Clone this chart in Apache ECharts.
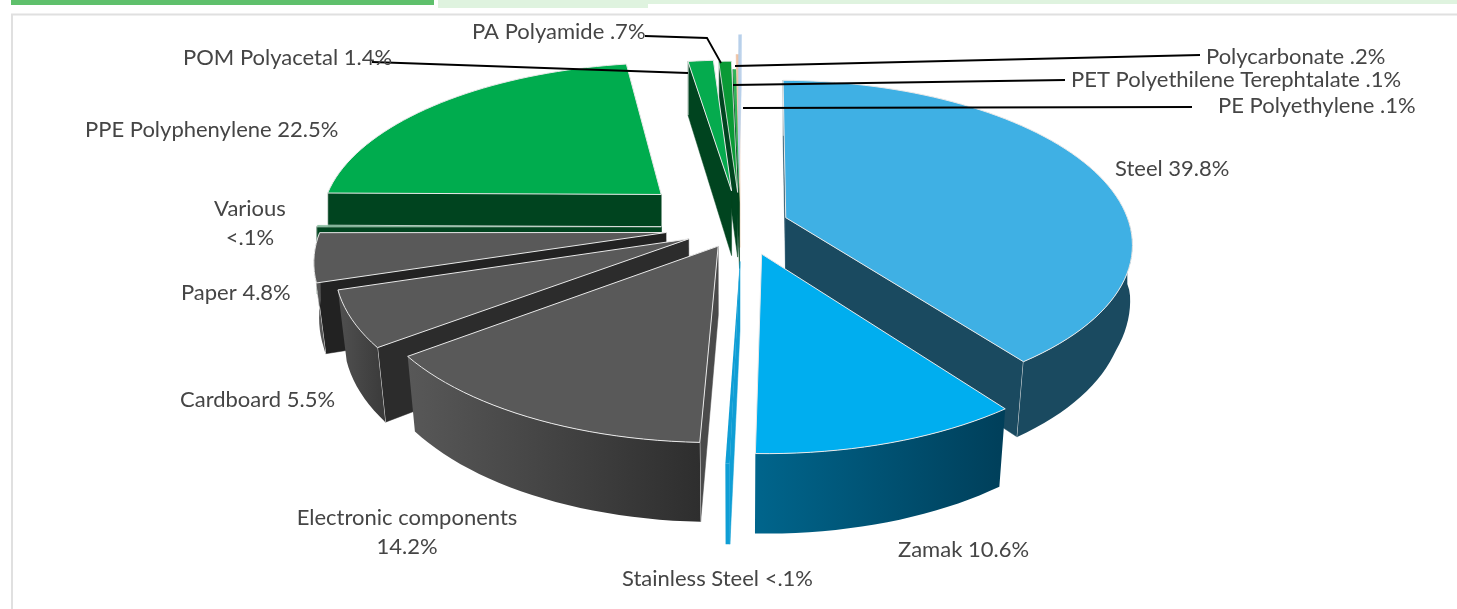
<!DOCTYPE html>
<html>
<head>
<meta charset="utf-8">
<style>html,body{margin:0;padding:0;background:#fff}#chart{width:1457px;height:609px}</style>
<script src="https://cdn.jsdelivr.net/npm/echarts@6/dist/echarts.min.js"></script>
</head>
<body>
<div id="chart"></div>
<script>
// chart data, clockwise from 12 o'clock
const categories = ['Steel', 'Zamak', 'Stainless Steel', 'Electronic components', 'Cardboard', 'Paper', 'Various',
  'PPE Polyphenylene', 'POM Polyacetal', 'PA Polyamide', 'PET Polyethilene Terephtalate', 'Polycarbonate', 'PE Polyethylene']
const values = [39.8, 10.6, 0.05, 14.2, 5.5, 4.8, 0.05, 22.5, 1.4, 0.7, 0.1, 0.2, 0.1]
const valueLabels = ['39.8%', '10.6%', '<.1%', '14.2%', '5.5%', '4.8%', '<.1%', '22.5%', '1.4%', '.7%', '.1%', '.2%', '.1%']

// styling per slice: how far each one is pulled out, and the tilt of that pull in degrees
const explode = [0.15, 0.19, 0.22, 0.14, 0.163, 0.21, 0.22, 0.3, 0.22, 0.21, 0.14, 0.27, 0.45]
const explodeSkew = [0, -4, -4, -5, -4.6, -4.2, -3, 0, 2, 3, 4, 2, 0]
const topColors = ['#3fb0e4', '#00aeef', '#0f9ed5', '#595959', '#595959', '#595959', '#00803a', '#00ac4e', '#05ab4e', '#0a9a36', '#2fb457', '#eec3a4', '#b8d0ea']
const sideColors = ['#1a4a60', '#00507a', '#0f9ed5', '#4a4a4a', '#2c2c2c', '#222222', '#00441f', '#00441f', '#00441f', '#00441f', '#00441f', '#eec3a4', '#b8d0ea']
const outerColors = [['#1a4a60', '#1a4a60'], ['#00658c', '#003f5a'], ['#0f9ed5', '#0f9ed5'], ['#585858', '#2e2e2e'], ['#505050', '#3a3a3a'],
  ['#555555', '#555555'], ['#00441f', '#00441f'], ['#00441f', '#00441f'], ['#00441f', '#00441f'], ['#00441f', '#00441f'], ['#00441f', '#00441f'], ['#eec3a4', '#eec3a4'], ['#b8d0ea', '#b8d0ea']]
const edgeWidths = [1, 1, 0, 1, 1, 1, 0.8, 1, 1, 0.8, 0, 0, 0]

// pie projection
const CX = 737, CY = 225, RX = 344, RY = 160, PERSP = 0.15
const START_ANGLE = 0.7, MIN_ANGLE = 0.6
const EDGE = '#e9e9e9'

const angles = values.map(v => Math.max(MIN_ANGLE, v / 100 * 360))
const angleSum = angles.reduce((a, b) => a + b, 0)
let run = START_ANGLE
const slices = angles.map((a, i) => {
  const start = run
  run += a / angleSum * 360
  return { i, start, end: run, mid: (start + run) / 2 }
})

function world(deg, r, e, midDeg) {
  const a = deg * Math.PI / 180, m = midDeg * Math.PI / 180
  return [r * Math.sin(a) + e * Math.sin(m), -r * Math.cos(a) - e * Math.cos(m)]
}
function topPt(w) {
  const s = 1 / (1 - PERSP * w[1])
  return [CX + RX * w[0] * s, CY + RY * w[1] * s]
}
function basePt(w) {
  const p = topPt(w)
  const shrink = 1 - 0.022 * Math.min(1, Math.max(0, w[1] * 3))
  return [CX + (p[0] - CX) * shrink, p[1] + 67 + 11 * w[1]]
}

function renderSlice(params, api) {
  const sl = slices[api.value(0)]
  const i = sl.i, e = explode[i], dir = sl.mid + explodeSkew[i]
  const steps = Math.max(2, Math.ceil((sl.end - sl.start) / 2))
  const arcW = []
  for (let k = 0; k <= steps; k++) arcW.push(world(sl.start + (sl.end - sl.start) * k / steps, 1, e, dir))
  const apexW = world(0, 0, e, dir)
  const A = topPt(apexW), arc = arcW.map(topPt)
  const M = arc[Math.floor(steps / 2)]
  const children = []

  // radial walls, only where they face the viewer
  ;[arcW[0], arcW[steps]].forEach(w => {
    const B = topPt(w)
    const side = (B[0] - A[0]) * (M[1] - A[1]) - (B[1] - A[1]) * (M[0] - A[0])
    const down = B[0] - A[0]
    if (side * down >= 0 && Math.abs(side) > 1e-6) return
    children.push({ type: 'polygon', shape: { points: [A, B, basePt(w), basePt(apexW)] }, style: { fill: sideColors[i], stroke: sideColors[i], lineWidth: 0.5 } })
    if (edgeWidths[i]) children.push({ type: 'polyline', shape: { points: [B, basePt(w)] }, style: { stroke: EDGE, lineWidth: 1, fill: null } })
  })

  // outer wall over the part of the arc on the near side
  const near = arcW.filter((w, k) => {
    const d = sl.start + (sl.end - sl.start) * k / steps
    return d >= 88 && d <= 272
  })
  if (near.length > 1) {
    const up = near.map(topPt), down = near.map(basePt).reverse()
    children.push({
      type: 'polygon',
      shape: { points: up.concat(down) },
      style: {
        fill: new echarts.graphic.LinearGradient(0, 0, 1, 0, [
          { offset: 0, color: outerColors[i][0] }, { offset: 1, color: outerColors[i][1] }]),
        stroke: null
      }
    })
  }

  children.push({ type: 'polygon', shape: { points: [A].concat(arc) }, style: { fill: topColors[i], stroke: EDGE, lineWidth: edgeWidths[i], lineJoin: 'round' } })
  return { type: 'group', children }
}

// far slices are painted first
const paintOrder = slices.slice().sort((a, b) => -Math.cos(a.mid * Math.PI / 180) + Math.cos(b.mid * Math.PI / 180))

// label placement: x is the left edge, y the text middle
const labelPos = {
  0: [1115, 169], 1: [898, 550], 2: [622, 579], 4: [180, 400], 5: [181, 293], 7: [85, 130],
  8: [183, 58], 9: [472, 32], 10: [1071, 80], 11: [1206, 57], 12: [1218, 106]
}
const leaders = [
  [[645, 36], [707, 38], [721, 63]],
  [[372, 62], [688, 73]],
  [[1200, 55], [735, 66]],
  [[1065, 80], [733, 85]],
  [[1192, 107], [743, 108]]
]
const font = { fontFamily: 'Lato', fontSize: 22, fill: '#454545' }
const graphics = [
  { type: 'rect', shape: { x: 11, y: 0, width: 423, height: 5 }, style: { fill: '#5fc06c' } },
  { type: 'rect', shape: { x: 438, y: 0, width: 210, height: 8 }, style: { fill: '#dff3df' } },
  { type: 'rect', shape: { x: 648, y: 0, width: 809, height: 4 }, style: { fill: '#dff3df' } },
  { type: 'polyline', shape: { points: [[12, 609], [12, 14.5], [1457, 14.5]] }, style: { stroke: '#e0e0e0', lineWidth: 2, fill: null } }
]
leaders.forEach(points => graphics.push({ type: 'polyline', z: 10, shape: { points }, style: { stroke: '#000', lineWidth: 1.8, fill: null } }))
Object.keys(labelPos).forEach(k => {
  const [x, y] = labelPos[k]
  graphics.push({ type: 'text', z: 11, x, y, style: { ...font, text: categories[k] + ' ' + valueLabels[k], textVerticalAlign: 'middle' } })
})
// two line labels
graphics.push({ type: 'text', z: 11, x: 250, y: 223, style: { ...font, text: categories[6] + '\n' + valueLabels[6], textAlign: 'center', textVerticalAlign: 'middle', lineHeight: 29 } })
graphics.push({ type: 'text', z: 11, x: 407, y: 532, style: { ...font, text: categories[3] + '\n' + valueLabels[3], textAlign: 'center', textVerticalAlign: 'middle', lineHeight: 29 } })

const chart = echarts.init(document.getElementById('chart'), null, { renderer: 'canvas' })
chart.setOption({
  animation: false,
  backgroundColor: '#fff',
  graphic: graphics,
  series: [{
    type: 'custom',
    coordinateSystem: 'none',
    silent: true,
    renderItem: renderSlice,
    data: paintOrder.map(s => [s.i, values[s.i]])
  }]
})
</script>
</body>
</html>
